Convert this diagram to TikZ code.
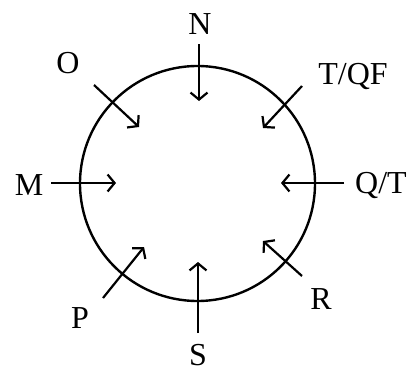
\documentclass[tikz,border=0pt]{standalone}
\usepackage{fontspec}
\setmainfont{Liberation Serif}
\usetikzlibrary{arrows.meta}

\tikzset{
    inarrow/.style={line width=2.2pt, -{Straight Barb[length=7pt,width=17pt,line width=2.2pt]}},
    lbl/.style={font=\fontsize{32}{36}\selectfont, inner sep=0pt}
}

\begin{document}
\begin{tikzpicture}[x=1pt,y=-1pt]
    \useasboundingbox (0,0) rectangle (412,372);

    % The circle
    \draw[line width=2.4pt] (197.5,183.5) circle (117.5);

    % Labels round the circle
    \node[lbl] (N) at (200,24) {N};
    \node[lbl] (TQF) at (353,76) {T/QF};
    \node[lbl] (QT) at (381,185) {Q/T};
    \node[lbl] (R) at (321,299) {R};
    \node[lbl] (S) at (198,355) {S};
    \node[lbl] (P) at (80,318) {P};
    \node[lbl] (M) at (29,185) {M};
    \node[lbl] (O) at (68,63) {O};

    % Arrow ends
    \coordinate (n1) at (199,44);   \coordinate (n2) at (199,101);
    \coordinate (t1) at (302,86);   \coordinate (t2) at (263,128);
    \coordinate (q1) at (344,183);  \coordinate (q2) at (281,183);
    \coordinate (r1) at (302,276);  \coordinate (r2) at (263,241);
    \coordinate (s1) at (198,333);  \coordinate (s2) at (198,262);
    \coordinate (p1) at (103,298);  \coordinate (p2) at (144,247);
    \coordinate (m1) at (51,183);   \coordinate (m2) at (116,183);
    \coordinate (o1) at (94,85);    \coordinate (o2) at (139,127);

    % Arrows pointing in
    \draw[inarrow] (n1) -- (n2);
    \draw[inarrow] (t1) -- (t2);
    \draw[inarrow] (q1) -- (q2);
    \draw[inarrow] (r1) -- (r2);
    \draw[inarrow] (s1) -- (s2);
    \draw[inarrow] (p1) -- (p2);
    \draw[inarrow] (m1) -- (m2);
    \draw[inarrow] (o1) -- (o2);
\end{tikzpicture}
\end{document}
